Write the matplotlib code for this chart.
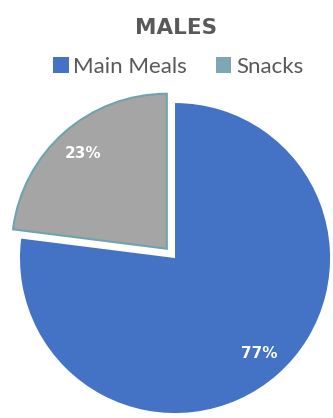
import matplotlib.pyplot as plt
from matplotlib.patches import Patch

plt.rcParams['font.family'] = ['Lato', 'DejaVu Sans']

# Share of daily intake, males
categories = ["Main Meals", "Snacks"]
shares = [77, 23]
colours = ["#4472C4", "#A5A5A5"]
legend_colours = ["#4472C4", "#7FA6B4"]

fig = plt.figure(figsize=(3.33, 4.18), dpi=100)
ax = fig.add_axes([0, 0, 1, 1])

wedges, texts, autotexts = ax.pie(
    shares, colors=colours, startangle=90, counterclock=False,
    explode=[0, 0.08], radius=1.0, pctdistance=0.82,
    autopct=lambda p: f"{p:.0f}%",
    wedgeprops=dict(linewidth=0),
    textprops=dict(color="white", fontweight="bold", fontsize=11,
                   family="DejaVu Sans"),
)
# snack slice has a thin teal outline
wedges[1].set_edgecolor("#6FA3AE")
wedges[1].set_linewidth(1.5)

ax.set_xlim(-1.129, 1.019)
ax.set_ylim(-1.032, 1.665)
ax.set_aspect("auto")
ax.axis("off")

fig.text(0.528, 0.933, "MALES", ha="center", va="center", family="DejaVu Sans",
         fontsize=15.5, fontweight="bold", color="#595959")

handles = [Patch(facecolor=c, edgecolor="none") for c in legend_colours]
fig.legend(handles, categories, loc="center", bbox_to_anchor=(0.535, 0.840),
           ncol=2, frameon=False, fontsize=16, labelcolor="#595959",
           handlelength=0.7, handleheight=0.7, handletextpad=0.2,
           columnspacing=1.3)

fig.savefig("out.png", dpi=100)
